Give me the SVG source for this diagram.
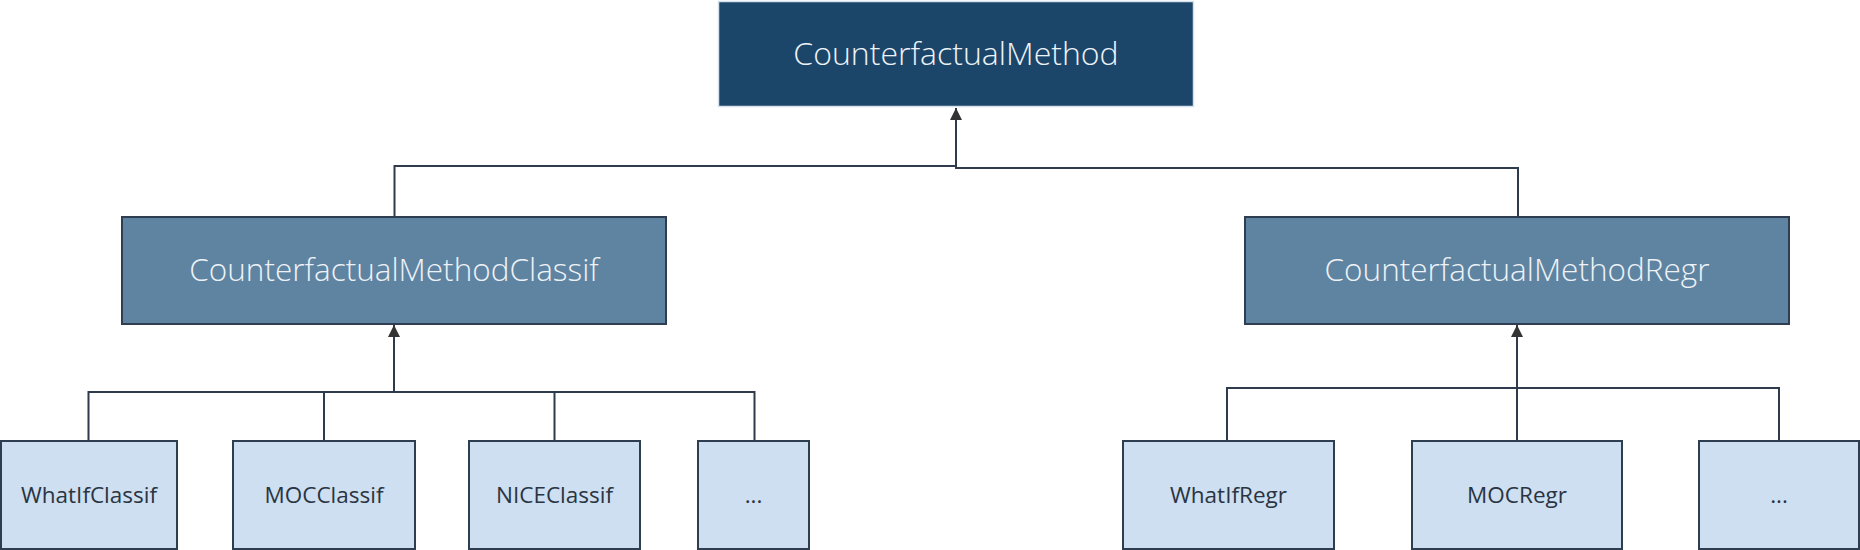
<svg xmlns="http://www.w3.org/2000/svg" width="1860" height="550" viewBox="0 0 1860 550">
<defs>
<style>
.t{font-family:"Open Sans","Noto Sans","Liberation Sans",sans-serif;text-anchor:middle;}
.top rect{fill:#1c4669;stroke:#d5e2ee;stroke-width:1.5;}
.top text{fill:#eef3f8;font-size:32px;font-weight:300;}
.mid rect{fill:#5f84a2;stroke:#2e3d4f;stroke-width:2;}
.mid text{fill:#eef2f6;font-size:31.5px;font-weight:300;}
.leaf rect{fill:#cddff0;stroke:#2e3d4f;stroke-width:2;}
.leaf text{fill:#2a3442;font-size:22.5px;font-weight:400;}
.c{fill:none;stroke:#2f3b4c;stroke-width:2;}
</style>
<marker id="ah" viewBox="0 0 12 12" refX="12" refY="6" markerWidth="12" markerHeight="12" markerUnits="userSpaceOnUse" orient="auto">
<path d="M0,0 L12,6 L0,12 Z" fill="#333"/>
</marker>
</defs>
<g id="connectors">
<path class="c" d="M394.5,216 V166 H956"/>
<path class="c" d="M1518,216 V168 H956 V108" marker-end="url(#ah)"/>
<path class="c" d="M88.5,441 V392 H754.5 V441"/>
<path class="c" d="M324,441 V392"/>
<path class="c" d="M554.5,441 V392"/>
<path class="c" d="M394,392 V325" marker-end="url(#ah)"/>
<path class="c" d="M1227,441 V388 H1779 V441"/>
<path class="c" d="M1517,441 V325" marker-end="url(#ah)"/>
</g>
<g id="CounterfactualMethod" class="top t">
<rect x="718.5" y="1.5" width="475" height="105"/>
<text x="956" y="65">CounterfactualMethod</text>
</g>
<g id="CounterfactualMethodClassif" class="mid t">
<rect x="122" y="217" width="544" height="107"/>
<text x="394" y="281">CounterfactualMethodClassif</text>
</g>
<g id="CounterfactualMethodRegr" class="mid t">
<rect x="1245" y="217" width="544" height="107"/>
<text x="1517" y="281">CounterfactualMethodRegr</text>
</g>
<g id="WhatIfClassif" class="leaf t">
<rect x="1" y="441" width="176" height="108"/>
<text x="89" y="503">WhatIfClassif</text>
</g>
<g id="MOCClassif" class="leaf t">
<rect x="233" y="441" width="182" height="108"/>
<text x="324" y="503">MOCClassif</text>
</g>
<g id="NICEClassif" class="leaf t">
<rect x="469" y="441" width="171" height="108"/>
<text x="554.5" y="503">NICEClassif</text>
</g>
<g id="EllipsisClassif" class="leaf t">
<rect x="698" y="441" width="111" height="108"/>
<text x="753.5" y="503">...</text>
</g>
<g id="WhatIfRegr" class="leaf t">
<rect x="1123" y="441" width="211" height="108"/>
<text x="1228.5" y="503">WhatIfRegr</text>
</g>
<g id="MOCRegr" class="leaf t">
<rect x="1412" y="441" width="210" height="108"/>
<text x="1517" y="503">MOCRegr</text>
</g>
<g id="EllipsisRegr" class="leaf t">
<rect x="1699" y="441" width="160" height="108"/>
<text x="1779" y="503">...</text>
</g>
</svg>
